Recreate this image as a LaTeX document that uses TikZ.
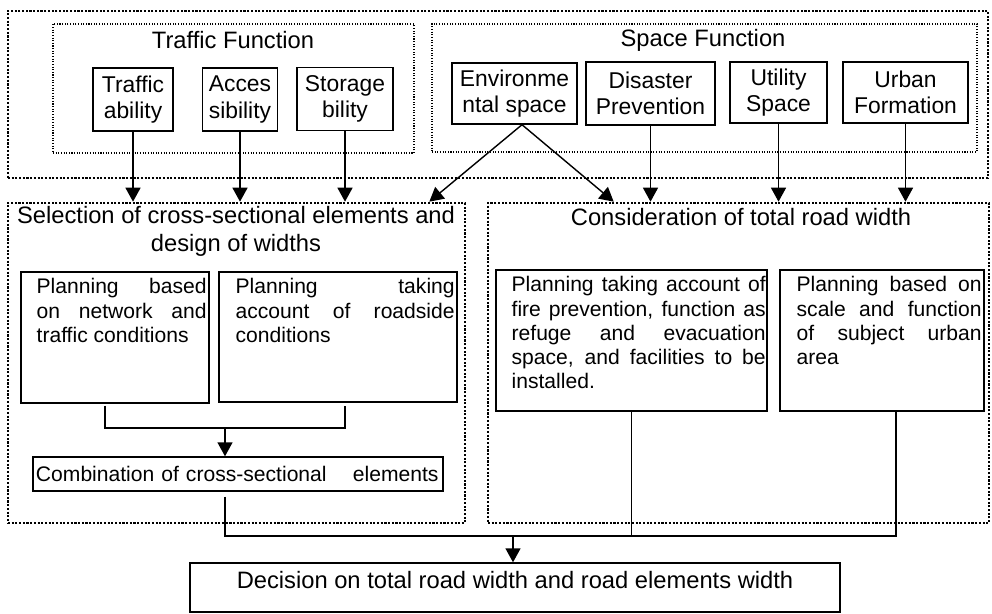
\documentclass[tikz,border=0pt]{standalone}
\usepackage{fontspec}
\setmainfont{Liberation Sans}
\usepackage{tikz}
\usetikzlibrary{arrows.meta, positioning, calc}

\begin{document}
\begin{tikzpicture}[
    funcbox/.style={rectangle, draw, line width=0.8pt, minimum height=1.26cm, align=center, inner sep=0pt, font=\fontsize{13pt}{15pt}\selectfont},
    planbox/.style={rectangle, draw, line width=0.8pt, inner sep=0pt},
    plantext/.style={anchor=north west, inner sep=0pt, align=justify, font=\fontsize{12pt}{13.7pt}\selectfont},
    headtext/.style={align=center, font=\fontsize{13.5pt}{16pt}\selectfont},
    outerframe/.style={rectangle, draw, line width=1.5pt, dash pattern=on 1.2pt off 0.9pt, inner sep=0pt},
    innerframe/.style={rectangle, draw, line width=0.6pt, dash pattern=on 0.6pt off 0.9pt, inner sep=0pt},
    arrow/.style={-{Triangle[length=0.28cm, width=0.3cm]}, line width=0.8pt},
    joinline/.style={line width=0.8pt},
]
\useasboundingbox (0,0) rectangle (19.84,-12.26);

% ============ FUNCTIONS (TOP) ============
\node[outerframe, minimum width=19.6cm, minimum height=3.34cm] (funcframe) at (9.96,-1.89) {};
\node[innerframe, minimum width=7.22cm, minimum height=2.58cm] (trafficframe) at (4.67,-1.77) {};
\node[innerframe, minimum width=10.9cm, minimum height=2.56cm] (spaceframe) at (14.09,-1.76) {};
\node[headtext] (traffictitle) at (4.66,-0.8) {Traffic Function};
\node[headtext] (spacetitle) at (14.06,-0.8) {Space Function};

% Traffic function items
\node[funcbox, minimum width=1.6cm] (traffic) at (2.66,-1.99) {Traffic\\ability};
\node[funcbox, minimum width=1.5cm] (access) at (4.8,-1.99) {Acces\\sibility};
\node[funcbox, minimum width=1.92cm] (storage) at (6.9,-1.98) {Storage\\bility};

% Space function items
\node[funcbox, minimum width=2.5cm, minimum height=1.22cm] (environ) at (10.29,-1.87) {Environme\\ntal space};
\node[funcbox, minimum width=2.58cm] (disaster) at (13.01,-1.87) {Disaster\\Prevention};
\node[funcbox, minimum width=1.94cm, minimum height=1.22cm] (utility) at (15.57,-1.85) {Utility\\Space};
\node[funcbox, minimum width=2.5cm, minimum height=1.22cm] (urban) at (18.11,-1.85) {Urban\\Formation};

% ============ SELECTION / CONSIDERATION ============
\node[outerframe, minimum width=9.14cm, minimum height=6.4cm] (select) at (4.73,-7.26) {};
\node[outerframe, minimum width=10.02cm, minimum height=6.4cm] (consider) at (14.77,-7.26) {};
\node[headtext] (selecttitle) at (4.72,-4.63) {Selection of cross-sectional elements and\\design of widths};
\node[headtext] (considertitle) at (14.82,-4.34) {Consideration of total road width};

% Planning boxes (left)
\node[planbox, minimum width=3.76cm, minimum height=2.62cm] (network) at (2.3,-6.75) {};
\node[plantext, text width=3.4cm] (networktext) at ($(network.north west)+(0.32,-0.14)$) {Planning based\linebreak on network and\linebreak traffic conditions};
\node[planbox, minimum width=4.76cm, minimum height=2.6cm] (roadside) at (6.76,-6.74) {};
\node[plantext, text width=4.38cm] (roadsidetext) at ($(roadside.north west)+(0.34,-0.14)$) {Planning taking\linebreak account of roadside\linebreak conditions};

% Planning boxes (right)
\node[planbox, minimum width=5.42cm, minimum height=2.82cm] (fireprev) at (12.63,-6.81) {};
\node[plantext, text width=5.08cm] (fireprevtext) at ($(fireprev.north west)+(0.32,-0.14)$) {Planning taking account of\linebreak fire prevention, function as\linebreak refuge and evacuation\linebreak space, and facilities to be\linebreak installed.};
\node[planbox, minimum width=4.08cm, minimum height=2.82cm] (urbanarea) at (17.64,-6.81) {};
\node[plantext, text width=3.7cm] (urbanareatext) at ($(urbanarea.north west)+(0.34,-0.14)$) {Planning based on\linebreak scale and function\linebreak of subject urban\linebreak area};

% Combination
\node[rectangle, draw, line width=0.8pt, minimum height=0.68cm, text width=8.08cm, inner xsep=0.06cm, align=left, font=\fontsize{12pt}{14pt}\selectfont] (combine) at (4.76,-9.48) {Combination of cross-sectional\hspace{11pt} elements};

% ============ DECISION ============
\node[rectangle, draw, line width=0.8pt, minimum width=13cm, inner ysep=0pt, text height=0.5cm, text depth=0.48cm, font=\fontsize{13.5pt}{16pt}\selectfont] (decision) at (10.3,-11.75) {Decision on total road width and road elements width};

% ============ ARROWS ============
\draw[arrow] (traffic) -- (traffic |- select.north);
\draw[arrow] (access) -- (access |- select.north);
\draw[arrow] (storage) -- (storage |- select.north);
\draw[arrow] ($(environ.south)+(0.15,0)$) -- ($(select.north east)+(-0.74,0)$);
\draw[arrow] ($(environ.south)+(0.15,0)$) -- ($(consider.north west)+(2.54,0)$);
\draw[arrow] (disaster) -- (disaster |- consider.north);
\draw[arrow] (utility) -- (utility |- consider.north);
\draw[arrow] (urban) -- (urban |- consider.north);

% Planning to combination
\coordinate (planjoin) at (4.5,-8.56);
\draw[joinline] ($(network.south)+(-0.2,-0.04)$) |- (planjoin) -| ($(roadside.south)+(0.14,-0.06)$);
\draw[arrow] (planjoin) -- (planjoin |- combine.north);

% Everything to decision
\coordinate (widthjoin) at (10.26,-10.72);
\draw[joinline] ($(combine.south)+(-0.26,-0.1)$) |- (widthjoin) -| ($(urbanarea.south)+(0.28,0)$);
\draw[joinline] (fireprev.south) -- ($(fireprev.south |- widthjoin)+(0,-0.02)$);
\draw[arrow] (widthjoin) -- (widthjoin |- decision.north);

\end{tikzpicture}
\end{document}
